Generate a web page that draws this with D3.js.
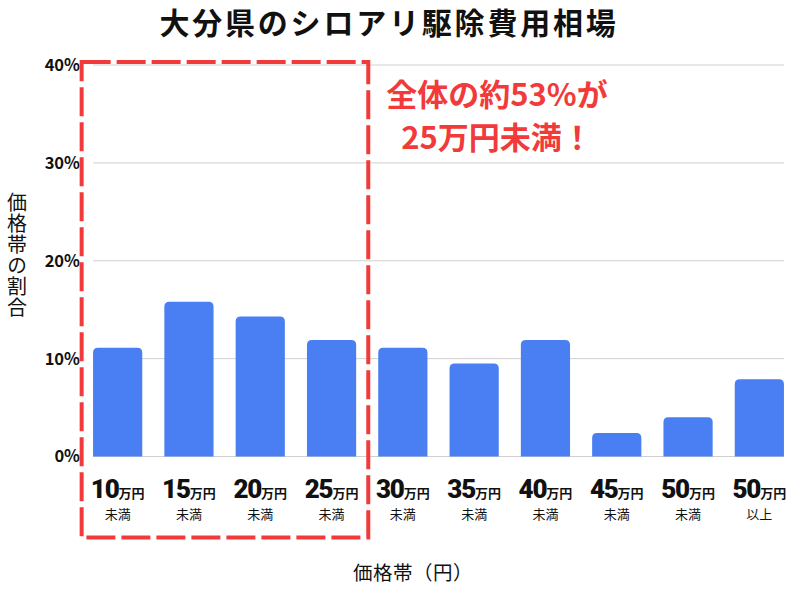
<!DOCTYPE html>
<html>
<head>
<meta charset="utf-8">
<script src="https://cdn.jsdelivr.net/npm/d3@7"></script>
<style>
  body { margin: 0; background: #fff; }
  svg { font-family: "Noto Sans CJK JP", "Noto Sans", sans-serif; }
</style>
</head>
<body>
<svg id="chart" width="800" height="600"></svg>
<script>
// 価格帯ごとの割合
const priceNums = ["10", "15", "20", "25", "30", "35", "40", "45", "50", "50"];
const priceSubs = ["未満", "未満", "未満", "未満", "未満", "未満", "未満", "未満", "未満", "以上"];
const shares = [11.1, 15.8, 14.3, 11.9, 11.1, 9.5, 11.9, 2.4, 4.0, 7.9];
const yTicks = [0, 10, 20, 30, 40];

const titleText = "大分県のシロアリ駆除費用相場";
const noteLines = ["全体の約53%が", "25万円未満！"];
const yLabel = "価格帯の割合";
const xLabel = "価格帯（円）";

const svg = d3.select("#chart");
const blue = "#4a7ef3";
const red = "#f23a3a";

const cats = priceNums.map((d, i) => i);
const x = d3.scaleBand()
  .domain(cats)
  .range([82, 795])
  .paddingInner(0.31)
  .paddingOuter(0.155);

const y = d3.scaleLinear()
  .domain([0, 40])
  .range([456.5, 65]);

// タイトル
svg.append("text")
  .attr("x", 389)
  .attr("y", 34)
  .attr("text-anchor", "middle")
  .attr("font-size", 30)
  .attr("font-weight", "bold")
  .attr("letter-spacing", 2.8)
  .attr("fill", "#111")
  .text(titleText);

// グリッド線
const gx0 = x(cats[0]);
const gx1 = x(cats[cats.length - 1]) + x.bandwidth();
svg.append("g")
  .selectAll("line")
  .data(yTicks)
  .join("line")
  .attr("x1", gx0)
  .attr("x2", gx1)
  .attr("y1", d => y(d))
  .attr("y2", d => y(d))
  .attr("stroke", "#d0d0d0")
  .attr("stroke-width", 1);

// y軸ラベル
svg.append("g")
  .selectAll("text")
  .data(yTicks)
  .join("text")
  .attr("x", 80)
  .attr("y", d => y(d))
  .attr("dy", "0.36em")
  .attr("text-anchor", "end")
  .attr("font-size", 16.5)
  .attr("font-weight", "bold")
  .attr("fill", "#111")
  .text(d => d + "%");

// 棒（上の角だけ丸める）
const r = 5;
svg.append("g")
  .selectAll("path")
  .data(shares)
  .join("path")
  .attr("fill", blue)
  .attr("d", (d, i) => {
    const x0 = x(i), x1 = x(i) + x.bandwidth();
    const yt = y(d), yb = y(0);
    return `M${x0},${yb}V${yt + r}Q${x0},${yt} ${x0 + r},${yt}H${x1 - r}Q${x1},${yt} ${x1},${yt + r}V${yb}Z`;
  });

// x軸ラベル（2行を1つのtextに）
const xl = svg.append("g")
  .selectAll("text")
  .data(cats)
  .join("text")
  .attr("transform", d => `translate(${x(d) + x.bandwidth() / 2},0)`)
  .attr("y", 497.5)
  .attr("text-anchor", "middle")
  .attr("fill", "#111");
xl.append("tspan")
  .attr("font-family", "Roboto, sans-serif")
  .attr("font-size", 26)
  .attr("font-weight", 900)
  .attr("letter-spacing", -1.2)
  .text(d => priceNums[d]);
xl.append("tspan")
  .attr("font-size", 13)
  .attr("font-weight", "bold")
  .text("万円");
xl.append("tspan")
  .attr("x", 0)
  .attr("dy", 21)
  .attr("font-size", 13)
  .text(d => priceSubs[d]);

// 軸タイトル
svg.append("text")
  .attr("x", 413)
  .attr("y", 580)
  .attr("text-anchor", "middle")
  .attr("font-size", 19.5)
  .attr("letter-spacing", 0.5)
  .attr("fill", "#111")
  .text(xLabel);

svg.append("text")
  .attr("x", 17)
  .attr("y", 192)
  .attr("font-size", 20)
  .attr("letter-spacing", 1)
  .attr("fill", "#111")
  .style("writing-mode", "vertical-rl")
  .style("text-orientation", "upright")
  .text(yLabel);

// 25万円未満を囲む赤い点線
const step = x.step();
const bx0 = x(cats[0]) - step * 0.16;
const bx1 = x(cats[3]) + x.bandwidth() + step * 0.17;
svg.append("rect")
  .attr("x", bx0)
  .attr("y", y(40) - 3)
  .attr("width", bx1 - bx0)
  .attr("height", y(0) + 81 - (y(40) - 3))
  .attr("fill", "none")
  .attr("stroke", red)
  .attr("stroke-width", 4)
  .attr("stroke-dasharray", "29 6");

// 注釈
svg.append("g")
  .selectAll("text")
  .data(noteLines)
  .join("text")
  .attr("x", 497)
  .attr("y", (d, i) => 106 + i * 43)
  .attr("text-anchor", "middle")
  .attr("font-size", 31)
  .attr("font-weight", "bold")
  .attr("fill", red)
  .text(d => d);
</script>
</body>
</html>
